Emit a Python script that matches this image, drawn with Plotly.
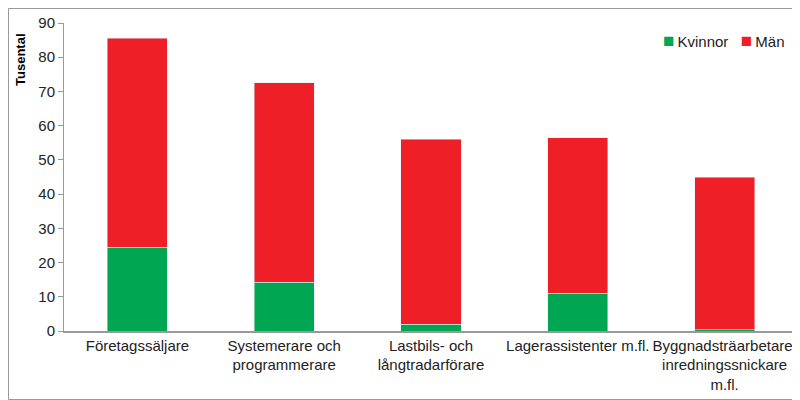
import plotly.graph_objects as go

categories = ["Företagssäljare", "Systemerare och<br>programmerare", "Lastbils- och<br>långtradarförare",
              "Lagerassistenter m.fl.", "Byggnadsträarbetare,<br>inredningssnickare<br>m.fl."]
kvinnor = [24.5, 14.3, 2.0, 11.1, 0.3]
man = [61.1, 58.2, 54.1, 45.3, 44.7]
y_ticks = [0, 10, 20, 30, 40, 50, 60, 70, 80, 90]
colors = {"Kvinnor": "#00A651", "Män": "#EE1F26"}

# page body has an 8px margin, so the figure is drawn at (8, 8)
OFF = 8
W, H = 800 - OFF, 400 - OFF
L, R, T, B = 64 - OFF, 2, 23 - OFF, 69
pw, ph = W - L - R, H - T - B


def px_x(x):
    return (x - OFF - L) / pw


def px_y(y):
    return (H - B - (y - OFF)) / ph


fig = go.Figure()
fig.add_trace(go.Bar(x=categories, y=kvinnor, name="Kvinnor", marker=dict(color=colors["Kvinnor"])))
fig.add_trace(go.Bar(x=categories, y=man, name="Män", marker=dict(color=colors["Män"])))

legend_text = "&nbsp;&nbsp;&nbsp;".join(
    f"<span style='color:{c};font-size:19px'>■</span>&#8201;{n}" for n, c in colors.items())

fig.update_layout(
    width=W, height=H, barmode="stack", bargap=0.59, showlegend=False,
    margin=dict(l=L, r=R, t=T, b=B, autoexpand=False),
    plot_bgcolor="white", paper_bgcolor="white",
    font=dict(family="Liberation Sans, Arial", size=15, color="#222"),
    xaxis=dict(showline=True, linecolor="#999", linewidth=1.5, ticks="", tickfont=dict(size=15),
               automargin=False),
    yaxis=dict(range=[0, 90], tickvals=y_ticks, showline=True, linecolor="#999", linewidth=1,
               ticks="outside", ticklen=5, tickcolor="#999", showgrid=False, zeroline=False,
               automargin=False),
    annotations=[
        dict(text="<b>Tusental</b>", textangle=-90, xref="paper", yref="paper",
             x=px_x(21), y=px_y(60), xanchor="center", yanchor="middle",
             showarrow=False, font=dict(size=13, color="#000")),
        dict(text=legend_text, xref="paper", yref="paper", x=px_x(787), y=px_y(41),
             xanchor="right", yanchor="middle", showarrow=False,
             font=dict(size=15, color="#222")),
    ],
    shapes=[dict(type="rect", xref="paper", yref="paper",
                 x0=px_x(8.5), x1=px_x(798.5), y0=px_y(399.5), y1=px_y(8.5),
                 line=dict(color="#999", width=1), layer="below")],
)
fig.write_html("out.html")
